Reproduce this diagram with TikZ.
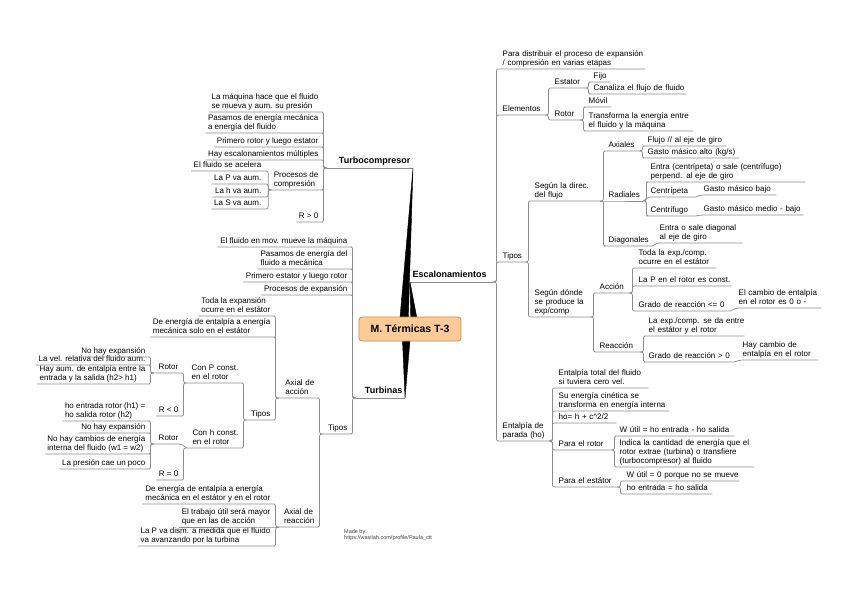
\documentclass[tikz,border=0pt]{standalone}
\usepackage{fontspec}
\setmainfont{Liberation Sans}
\definecolor{lc}{HTML}{8C8C8C}
\definecolor{boxfill}{HTML}{FDCB98}
\definecolor{boxdraw}{HTML}{CF8A4E}
\newcommand\tbx[1]{\begin{tabular}[b]{@{}l@{}}#1\end{tabular}}
\newcommand\rcon[2]{\draw[cn] (#1.south east) -- ++(3,0) |- (#2.south west) -- (#2.south east);}
\newcommand\lcon[2]{\draw[cn] (#1.south west) -- ++(-3,0) |- (#2.south east) -- (#2.south west);}
\newcommand\rscon[2]{\draw[cn] (#1.south east) -- (#2.south west) -- (#2.south east);}
\newcommand\lscon[2]{\draw[cn] (#1.south west) -- (#2.south east) -- (#2.south west);}
\begin{document}
\begin{tikzpicture}[x=1pt,y=-1pt,
  cn/.style={draw=lc, line width=0.75pt, rounded corners=2pt},
  nd/.style={inner xsep=2.5pt, inner ysep=0.6pt, font=\fontsize{8}{9}\selectfont},
  rn/.style={nd, anchor=south west, text width=#1, align=left},
  ln/.style={nd, anchor=south east},
  lw/.style={nd, anchor=south east, text width=#1, align=right},
  hd/.style={font=\bfseries\fontsize{9}{11}\selectfont}]
\fill[white] (0,0) rectangle (848,599);
\useasboundingbox (0,0) rectangle (848,599);

% ---------- main headings
\node[lw=81, hd] (tc) at (413,168) {\tbx{Turbocompresor}};
\node[rn=78, hd] (esc) at (410,282) {\tbx{Escalonamientos}};
\node[lw=44, hd] (tb) at (405,398) {\tbx{Turbinas}};
\draw[cn] (tc.south west) -- (tc.south east);
\draw[cn] (esc.south west) -- (esc.south east);
\draw[cn] (tb.south west) -- (tb.south east);

% ---------- Turbocompresor
\node[ln] (tc1) at (321,112) {\tbx{La máquina hace que el fluido\\se mueva y aum. su presión}};
\node[ln] (tc2) at (321,133) {\tbx{Pasamos de energía mecánica\\a energía del fluido}};
\node[ln] (tc3) at (321,147) {\tbx{Primero rotor y luego estator}};
\node[ln] (tc4) at (321,160) {\tbx{Hay escalonamientos múltiples}};
\node[ln] (tc5) at (321,190) {\tbx{Procesos de\\compresión}};
\node[ln] (tc6) at (321,222) {\tbx{R > 0}};
\foreach \c in {tc1,tc2,tc3,tc4,tc5,tc6} {\lcon{tc}{\c}}
\node[ln] (pc1) at (264,171) {\tbx{El fluido se acelera}};
\node[ln] (pc2) at (264,184) {\tbx{La P va aum.}};
\node[ln] (pc3) at (264,197) {\tbx{La h va aum.}};
\node[ln] (pc4) at (264,209) {\tbx{La S va aum.}};
\foreach \c in {pc1,pc2,pc3,pc4} {\lcon{tc5}{\c}}

% ---------- Turbinas
\node[ln] (tb1) at (350,247) {\tbx{El fluido en mov. mueve la máquina}};
\node[ln] (tb2) at (350,269) {\tbx{Pasamos de energía del\\fluido a mecánica}};
\node[ln] (tb3) at (350,282) {\tbx{Primero estator y luego rotor}};
\node[ln] (tb4) at (350,295) {\tbx{Procesos de expansión}};
\node[lw=22] (tb5) at (350,434) {\tbx{Tipos}};
\foreach \c in {tb1,tb2,tb3,tb4,tb5} {\lcon{tb}{\c}}

\node[lw=33] (ac) at (317,398) {\tbx{Axial de\\acción}};
\node[lw=33] (re) at (317,527) {\tbx{Axial de\\reacción}};
\lcon{tb5}{ac}
\lcon{tb5}{re}

\node[ln] (ac1) at (273,316) {\tbx{Toda la expansión\\ocurre en el estátor}};
\node[ln] (ac2) at (273,337) {\tbx{De energía de entalpía a energía\\mecánica solo en el estátor}};
\node[lw=21] (ac3) at (273,420) {\tbx{Tipos}};
\foreach \c in {ac1,ac2,ac3} {\lcon{ac}{\c}}

\node[lw=49] (cp) at (241,383) {\tbx{Con P const.\\en el rotor}};
\node[lw=49] (ch) at (241,448) {\tbx{Con h const.\\en el rotor}};
\lcon{ac3}{cp}
\lcon{ac3}{ch}

\node[lw=22] (cpr) at (181,373) {\tbx{Rotor}};
\node[ln] (cpz) at (181,416) {\tbx{R < 0}};
\lcon{cp}{cpr}
\lcon{cp}{cpz}
\node[ln] (cpr1) at (148,357) {\tbx{No hay expansión}};
\node[ln] (cpr2) at (148,365) {\tbx{La vel. relativa del fluido aum.}};
\node[ln] (cpr3) at (148,384) {\tbx{Hay aum. de entalpía entre la\\entrada y la salida (h2> h1)}};
\foreach \c in {cpr1,cpr2,cpr3} {\lcon{cpr}{\c}}

\node[lw=22] (chr) at (181,444) {\tbx{Rotor}};
\node[ln] (chz) at (181,480) {\tbx{R = 0}};
\lscon{ch}{chr}
\lcon{ch}{chz}
\node[ln] (chr1) at (148,421) {\tbx{ho entrada rotor (h1) =\\ho salida rotor (h2)}};
\node[ln] (chr2) at (148,433) {\tbx{No hay expansión}};
\node[ln] (chr3) at (148,454) {\tbx{No hay cambios de energía\\interna del fluido (w1 = w2)}};
\node[ln] (chr4) at (148,469) {\tbx{La presión cae un poco}};
\foreach \c in {chr1,chr2,chr3,chr4} {\lcon{chr}{\c}}

\node[ln] (re1) at (273,504) {\tbx{De energía de entalpía a energía\\mecánica en el estátor y en el rotor}};
\node[ln] (re2) at (273,527) {\tbx{El trabajo útil será mayor\\que en las de acción}};
\node[ln] (re3) at (273,546) {\tbx{La P va dism. a medida que el fluido\\va avanzando por la turbina}};
\lcon{re}{re1}
\lscon{re}{re2}
\lcon{re}{re3}

% ---------- Escalonamientos
\node[rn=140] (e1) at (500,69) {\tbx{Para distribuir el proceso de expansión\\/ compresión en varias etapas}};
\node[rn=40] (el) at (500,115) {\tbx{Elementos}};
\node[rn=20] (tp) at (500,262) {\tbx{Tipos}};
\node[rn=44] (en) at (500,441) {\tbx{Entalpía de\\parada (ho)}};
\foreach \c in {e1,el,tp,en} {\rcon{esc}{\c}}

\node[rn=28] (es) at (552,88) {\tbx{Estator}};
\node[rn=23] (ro) at (552,120) {\tbx{Rotor}};
\rcon{el}{es}
\rcon{el}{ro}
\node[rn=14] (fi) at (591,82) {\tbx{Fijo}};
\node[rn=90] (ca) at (591,94) {\tbx{Canaliza el flujo de fluido}};
\rcon{es}{fi}
\rcon{es}{ca}
\node[rn=20] (mo) at (586,107) {\tbx{Móvil}};
\node[rn=102] (tr) at (586,131) {\tbx{Transforma la energía entre\\el fluido y la máquina}};
\rcon{ro}{mo}
\rcon{ro}{tr}

\node[rn=63] (sd) at (532,201) {\tbx{Según la direc.\\del flujo}};
\node[rn=53] (sp) at (532,317) {\tbx{Según dónde\\se produce la\\exp/comp}};
\rcon{tp}{sd}
\rcon{tp}{sp}

\node[rn=28] (ax) at (606,151) {\tbx{Axiales}};
\node[rn=32] (ra) at (606,201) {\tbx{Radiales}};
\node[rn=41] (dg) at (606,246) {\tbx{Diagonales}};
\rcon{sd}{ax}
\rscon{sd}{ra}
\rcon{sd}{dg}
\node[rn=76] (ax1) at (645,146) {\tbx{Flujo // al eje de giro}};
\node[rn=89] (ax2) at (645,158) {\tbx{Gasto másico alto (kg/s)}};
\rcon{ax}{ax1}
\rcon{ax}{ax2}
\node[rn=152] (ra1) at (648,182) {\tbx{Entra (centrípeta) o sale (centrífugo)\\perpend. al eje de giro}};
\node[rn=42] (ra2) at (648,197) {\tbx{Centrípeta}};
\node[rn=42] (ra3) at (648,216) {\tbx{Centrífugo}};
\rcon{ra}{ra1}
\rscon{ra}{ra2}
\rcon{ra}{ra3}
\node[rn=70] (ra2a) at (701,195) {\tbx{Gasto másico bajo}};
\node[rn=97] (ra3a) at (701,215) {\tbx{Gasto másico medio - bajo}};
\rscon{ra2}{ra2a}
\rscon{ra3}{ra3a}
\node[rn=80] (dg1) at (657,243) {\tbx{Entra o sale diagonal\\al eje de giro}};
\rscon{dg}{dg1}

\node[rn=27] (acc) at (597,293) {\tbx{Acción}};
\node[rn=38] (rea) at (597,352) {\tbx{Reacción}};
\rcon{sp}{acc}
\rcon{sp}{rea}
\node[rn=75] (acc1) at (636,268) {\tbx{Toda la exp./comp.\\ocurre en el estátor}};
\node[rn=90] (acc2) at (636,286) {\tbx{La P en el rotor es const.}};
\node[rn=89] (acc3) at (636,311) {\tbx{Grado de reacción <= 0}};
\foreach \c in {acc1,acc2,acc3} {\rcon{acc}{\c}}
\node[rn=80] (acc3a) at (736,308) {\tbx{El cambio de entalpía\\en el rotor es 0 o -}};
\rscon{acc3}{acc3a}
\node[rn=93] (rea1) at (646,336) {\tbx{La exp./comp. se da entre\\el estátor y el rotor}};
\node[rn=83] (rea2) at (646,362) {\tbx{Grado de reacción > 0}};
\rcon{rea}{rea1}
\rcon{rea}{rea2}
\node[rn=73] (rea2a) at (740,360) {\tbx{Hay cambio de\\entalpía en el rotor}};
\rscon{rea2}{rea2a}

\node[rn=87] (en1) at (556,388) {\tbx{Entalpía total del fluido\\si tuviera cero vel.}};
\node[rn=108] (en2) at (556,411) {\tbx{Su energía cinética se\\transforma en energía interna}};
\node[rn=55] (en3) at (556,423) {\tbx{ho= h + c\textasciicircum 2/2}};
\node[rn=50] (en4) at (556,450) {\tbx{Para el rotor}};
\node[rn=56] (en5) at (556,487) {\tbx{Para el estátor}};
\foreach \c in {en1,en2,en3,en4,en5} {\rcon{en}{\c}}
\node[rn=112] (en4a) at (617,436) {\tbx{W útil = ho entrada - ho salida}};
\node[rn=132] (en4b) at (617,467) {\tbx{Indica la cantidad de energía que el\\rotor extrae (turbina) o transfiere\\(turbocompresor) al fluido}};
\rcon{en4}{en4a}
\rcon{en4}{en4b}
\node[rn=110] (en5a) at (624,481) {\tbx{W útil = 0 porque no se mueve}};
\node[rn=83] (en5b) at (624,494) {\tbx{ho entrada = ho salida}};
\rcon{en5}{en5a}
\rcon{en5}{en5b}

% ---------- central wedges and topic
\filldraw[black, line width=0.4pt] (399,329) -- (408,329) -- (tc.south east) -- cycle;
\filldraw[black, line width=0.4pt] (411,329) -- (419,329) -- (esc.south west) -- cycle;
\filldraw[black, line width=0.4pt] (402,329) -- (411,329) -- (tb.south east) -- cycle;
\node[draw=boxdraw, fill=boxfill, line width=0.8pt, rounded corners=3pt,
      minimum width=102pt, minimum height=24pt, inner sep=0pt,
      font=\bfseries\fontsize{10.5}{12}\selectfont] (ctr) at (410,329) {M. Térmicas T-3};

% ---------- credit
\node[anchor=north west, inner sep=0pt, align=left, text=black!75,
      font=\fontsize{5.5}{6.5}\selectfont] (made) at (344,529)
      {Made by:\\https://wasilah.com/profile/Paula\_ctt};
\end{tikzpicture}
\end{document}
